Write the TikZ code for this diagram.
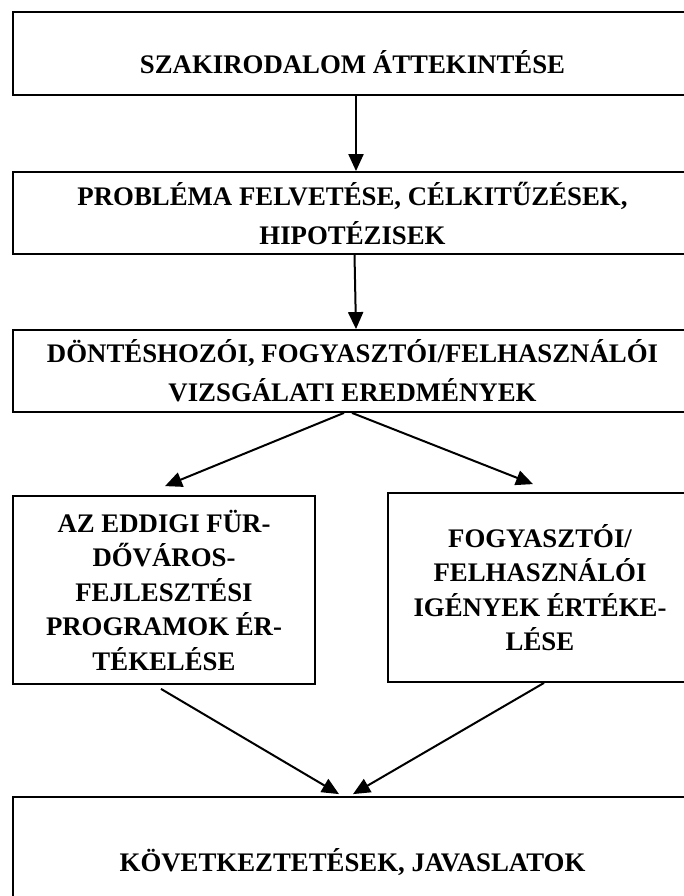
\documentclass[tikz,border=0pt]{standalone}
\usepackage{fontspec}
\setmainfont{Liberation Serif}
\usetikzlibrary{arrows.meta}
\begin{document}
\begin{tikzpicture}[x=1pt,y=-1pt,
  box/.style={draw, line width=1.8pt, inner sep=0pt, align=center,
    font=\bfseries\fontsize{26.8pt}{34.5pt}\selectfont},
  widebox/.style={box, font=\bfseries\fontsize{26.8pt}{39pt}\selectfont},
  txt/.style={inner sep=0pt, align=center, font=\bfseries\fontsize{26.8pt}{34.5pt}\selectfont},
  conn/.style={line width=2pt, -{Triangle[length=17pt,width=15pt]}}]
\useasboundingbox (0,0) rectangle (683,896);

\node[box, minimum width=679pt, minimum height=83pt] (b1) at (352.5,53.5) {};
\node[txt] (t1) at (352.5,62) {SZAKIRODALOM ÁTTEKINTÉSE};

\node[widebox, minimum width=679pt, minimum height=82pt] (b2) at (352.5,213)
  {PROBLÉMA FELVETÉSE, CÉLKITŰZÉSEK,\\HIPOTÉZISEK};

\node[widebox, minimum width=679pt, minimum height=82pt] (b3) at (352.5,371)
  {DÖNTÉSHOZÓI, FOGYASZTÓI/FELHASZNÁLÓI\\VIZSGÁLATI EREDMÉNYEK};

\node[box, minimum width=302pt, minimum height=188pt] (b4) at (164,590)
  {AZ EDDIGI FÜR-\\DŐVÁROS-\\FEJLESZTÉSI\\PROGRAMOK ÉR-\\TÉKELÉSE};

\node[box, minimum width=304pt, minimum height=189pt] (b5) at (540,587.5)
  {FOGYASZTÓI/\\FELHASZNÁLÓI\\IGÉNYEK ÉRTÉKE-\\LÉSE};

\node[box, minimum width=679pt, minimum height=130pt] (b6) at (352.5,862)
  {KÖVETKEZTETÉSEK, JAVASLATOK};

\draw[conn] ([xshift=3.5pt]b1.south) -- ([xshift=3.5pt]b2.north);
\draw[conn] ([xshift=2pt]b2.south) -- ([xshift=3.5pt]b3.north);
\draw[conn] ([xshift=-8.5pt]b3.south) -- ([xshift=1pt,yshift=9pt]b4.north);
\draw[conn] ([xshift=-0.5pt]b3.south) -- ([xshift=-7pt,yshift=8pt]b5.north);
\draw[conn] ([xshift=-3pt,yshift=-4pt]b4.south) -- ([xshift=-13.5pt,yshift=2pt]b6.north);
\draw[conn] ([xshift=4pt]b5.south) -- ([xshift=0.5pt,yshift=2pt]b6.north);
\end{tikzpicture}
\end{document}
